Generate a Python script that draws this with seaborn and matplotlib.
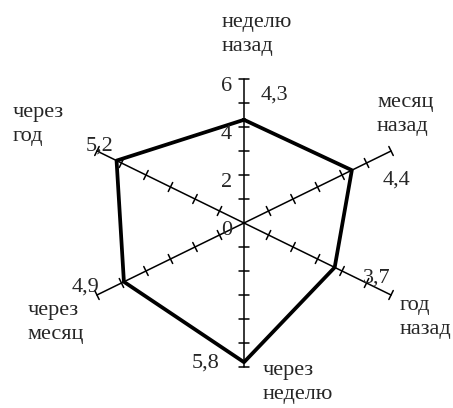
import numpy as np
import pandas as pd
import matplotlib.pyplot as plt
import seaborn as sns

# Data (clockwise from the top)
categories = ['неделю\nназад', 'месяц\nназад', 'год\nназад',
              'через\nнеделю', 'через\nмесяц', 'через\nгод']
values = [4.3, 4.4, 3.7, 5.8, 4.9, 5.2]
value_labels = ['4,3', '4,4', '3,7', '5,8', '4,9', '5,2']
axis_ticks = [0, 2, 4, 6]
axis_max = 6

sns.set_style("white")
plt.rcParams['font.family'] = ['Liberation Serif', 'DejaVu Serif']

W, H = 453, 408
fig = plt.figure(figsize=(W / 100, H / 100), dpi=100)
ax = fig.add_axes([0, 0, 1, 1])

# centre of the web in pixels and pixels per unit (chart is stretched horizontally)
cx, cy, sx, sy = 244, 223, 28.3, 24.0
ax.set_xlim(-cx / sx, (W - cx) / sx)
ax.set_ylim(-(H - cy) / sy, cy / sy)
ax.axis('off')

angles = np.arange(len(categories)) * 2 * np.pi / len(categories)
df = pd.DataFrame({'cat': categories, 'value': values, 'angle': angles})
df['x'] = df['value'] * np.sin(df['angle'])
df['y'] = df['value'] * np.cos(df['angle'])

# spokes with tick marks
for a in angles:
    ax.plot([0, axis_max * np.sin(a)], [0, axis_max * np.cos(a)], color='black', lw=1.1)
    dpx, dpy = sx * np.sin(a), sy * np.cos(a)
    n = np.hypot(dpx, dpy)
    px, py = -dpy / n, dpx / n
    for r in range(1, axis_max + 1):
        x0, y0 = r * np.sin(a), r * np.cos(a)
        ax.plot([x0 - 5 * px / sx, x0 + 5 * px / sx],
                [y0 - 5 * py / sy, y0 + 5 * py / sy], color='black', lw=1.1)

# value polygon
closed = pd.concat([df, df.iloc[:1]], ignore_index=True)
sns.lineplot(data=closed, x='x', y='y', sort=False, estimator=None,
             color='black', lw=2.7, ax=ax)

# axis labels on the vertical spoke
for t in axis_ticks:
    ax.annotate(str(t), (0, t), xytext=(-12, -12), textcoords='offset pixels',
                ha='right', va='baseline', fontsize=16)

# data labels
label_offsets = [(17, 20, 'left'), (31, -14, 'left'), (28, -15, 'left'),
                 (-25, -5, 'right'), (-25, -10, 'right'), (-3, 10, 'right')]
for (_, row), lab, (ox, oy, ha) in zip(df.iterrows(), value_labels, label_offsets):
    ax.annotate(lab, (row['x'], row['y']), xytext=(ox, oy), textcoords='offset pixels',
                ha=ha, va='baseline', fontsize=16)

# category labels (left edge, first baseline in pixels)
cat_pos = [(222, 27), (377, 107), (400, 310), (263, 375), (28, 315), (13, 117)]
for cat, (lx, by) in zip(categories, cat_pos):
    for i, line in enumerate(cat.split('\n')):
        fig.text(lx / W, 1 - (by + i * 24) / H, line, ha='left', va='baseline', fontsize=16)

plt.savefig("out.png", dpi=100)
